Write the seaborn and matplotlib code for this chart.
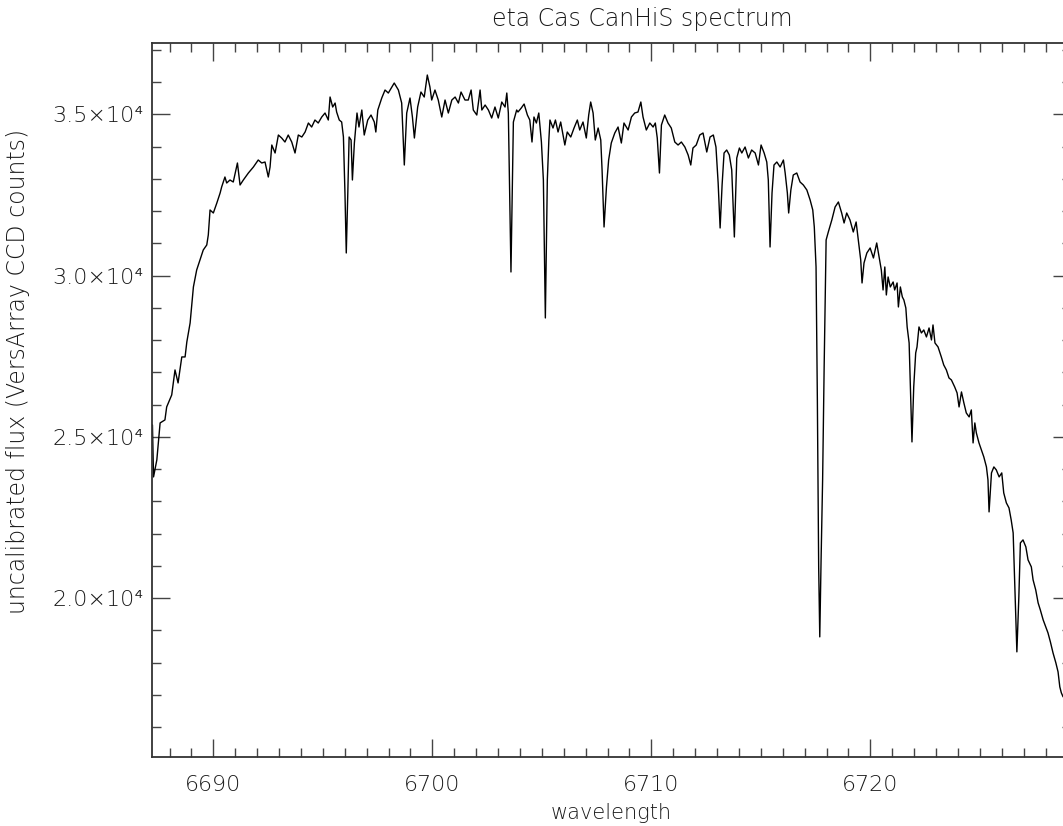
import matplotlib
matplotlib.use("Agg")
import matplotlib.pyplot as plt
from matplotlib.ticker import MultipleLocator, FuncFormatter
import numpy as np
import pandas as pd
import seaborn as sns

# spectrum, in pieces (wavelength in A, flux in counts)
wl_a = [6687.22, 6687.27, 6687.42, 6687.57, 6687.79, 6687.87, 6688.10, 6688.25, 6688.39, 6688.56,
        6688.71, 6688.79, 6688.94, 6689.09, 6689.24, 6689.39, 6689.54, 6689.70, 6689.77, 6689.85,
        6690.00, 6690.16, 6690.31, 6690.38, 6690.53, 6690.61, 6690.76, 6690.91, 6691.10, 6691.22,
        6691.37, 6691.60, 6691.83, 6692.05, 6692.21, 6692.36, 6692.51, 6692.59, 6692.67, 6692.82,
        6692.97, 6693.12, 6693.27, 6693.42, 6693.58, 6693.73, 6693.88, 6694.04, 6694.19, 6694.34,
        6694.49, 6694.64, 6694.79, 6694.95, 6695.10, 6695.25, 6695.33, 6695.45, 6695.56, 6695.63,
        6695.75]
flux_a = [25368, 23756, 24283, 25430, 25523, 25926, 26298, 27073, 26670, 27476,
          27476, 27941, 28530, 29646, 30173, 30483, 30793, 30948, 31258, 32033,
          31940, 32250, 32560, 32746, 33056, 32870, 32963, 32901, 33490, 32808,
          32963, 33180, 33366, 33583, 33490, 33521, 33056, 33366, 34048, 33800,
          34358, 34265, 34141, 34358, 34141, 33800, 34358, 34296, 34451, 34730,
          34606, 34823, 34730, 34916, 35040, 34823, 35536, 35226, 35350, 35071,
          34823]

wl_b = [6695.86, 6695.94, 6696.01, 6696.07, 6696.14, 6696.20, 6696.29, 6696.35, 6696.44, 6696.56,
        6696.65, 6696.78, 6696.89, 6697.05, 6697.20, 6697.35, 6697.42, 6697.51, 6697.69, 6697.84,
        6697.99, 6698.15, 6698.26, 6698.45, 6698.60, 6698.72, 6698.83, 6698.98, 6699.09, 6699.18,
        6699.33, 6699.48, 6699.63, 6699.77, 6699.89, 6699.97, 6700.12, 6700.27, 6700.43, 6700.58,
        6700.73, 6700.89, 6701.04, 6701.19, 6701.31, 6701.49, 6701.64, 6701.77, 6701.87, 6702.03,
        6702.18, 6702.26, 6702.41, 6702.56, 6702.71, 6702.86, 6703.01, 6703.17, 6703.32, 6703.40,
        6703.47, 6703.59, 6703.70, 6703.85]
flux_b = [34761, 34296, 32560, 30700, 32560, 34296, 34203, 32963, 34110, 35040,
          34606, 35133, 34358, 34823, 34978, 34761, 34451, 35133, 35505, 35753,
          35660, 35846, 35970, 35753, 35350, 33428, 35040, 35505, 34916, 34265,
          35226, 35691, 35536, 36218, 35846, 35443, 35753, 35443, 34916, 35443,
          35040, 35443, 35536, 35350, 35691, 35443, 35443, 35753, 35133, 34978,
          35753, 35133, 35288, 35133, 34885, 35226, 34885, 35381, 35226, 35660,
          35040, 30111, 34761, 35133]

wl_c = [6703.91, 6704.06, 6704.19, 6704.34, 6704.45, 6704.55, 6704.64, 6704.75, 6704.86, 6704.98,
        6705.07, 6705.16, 6705.25, 6705.32, 6705.37, 6705.51, 6705.62, 6705.74, 6705.86, 6705.97,
        6706.05, 6706.16, 6706.32, 6706.47, 6706.62, 6706.73, 6706.88, 6707.03, 6707.14, 6707.23,
        6707.34, 6707.44, 6707.57, 6707.69, 6707.75, 6707.84, 6707.95, 6708.05, 6708.17, 6708.33,
        6708.48, 6708.63, 6708.75, 6708.94, 6709.09, 6709.24, 6709.39, 6709.52, 6709.62, 6709.77,
        6709.93, 6710.08, 6710.18, 6710.27, 6710.37, 6710.46, 6710.61, 6710.76, 6710.91, 6711.07,
        6711.22, 6711.37, 6711.53, 6711.68, 6711.80, 6711.90, 6712.05, 6712.21, 6712.36]
flux_c = [35071, 35195, 35319, 34978, 34823, 34141, 34916, 34730, 35040, 34141,
          32963, 28685, 32963, 34203, 34823, 34575, 34823, 34451, 34761, 34358,
          34048, 34451, 34296, 34575, 34823, 34513, 34761, 34265, 34978, 35381,
          35040, 34203, 34575, 34203, 33273, 31506, 32746, 33583, 34110, 34420,
          34606, 34110, 34730, 34513, 34916, 35040, 35071, 35381, 34916, 34513,
          34730, 34606, 34730, 34265, 33180, 34668, 34978, 34730, 34575, 34141,
          34048, 34141, 33986, 33738, 33428, 33955, 34048, 34358, 34420]

wl_d = [6712.53, 6712.68, 6712.83, 6712.95, 6713.05, 6713.14, 6713.23, 6713.32, 6713.44, 6713.56,
        6713.67, 6713.79, 6713.90, 6714.02, 6714.13, 6714.28, 6714.43, 6714.58, 6714.74, 6714.89,
        6715.01, 6715.15, 6715.27, 6715.34, 6715.42, 6715.51, 6715.60, 6715.73, 6715.88, 6716.03,
        6716.11, 6716.21, 6716.27, 6716.37, 6716.48, 6716.64, 6716.79, 6716.94, 6717.10, 6717.25,
        6717.37, 6717.44, 6717.52, 6717.58, 6717.64, 6717.69, 6717.75, 6717.82, 6717.89, 6717.98,
        6718.08, 6718.24, 6718.39, 6718.54, 6718.69, 6718.80, 6718.92, 6719.07, 6719.22, 6719.35,
        6719.45, 6719.56, 6719.62, 6719.71, 6719.84, 6719.99, 6720.14, 6720.29, 6720.44]
flux_d = [33831, 34296, 34358, 33986, 32870, 31475, 32808, 33800, 33893, 33738,
          33273, 31196, 33645, 33955, 33800, 33986, 33645, 33893, 33800, 33428,
          34048, 33800, 33521, 32963, 30886, 32560, 33428, 33521, 33366, 33583,
          33180, 32560, 31940, 32653, 33118, 33180, 32901, 32808, 32653, 32343,
          32033, 31506, 30266, 26143, 20966, 18796, 21183, 23663, 27166, 31103,
          31351, 31723, 32126, 32281, 31940, 31630, 31940, 31723, 31351, 31661,
          31103, 30483, 29770, 30390, 30700, 30855, 30545, 31010, 30421]

wl_e = [6720.50, 6720.58, 6720.66, 6720.73, 6720.81, 6720.91, 6721.04, 6721.11, 6721.22, 6721.28,
        6721.37, 6721.46, 6721.53, 6721.62, 6721.68, 6721.77, 6721.83, 6721.90, 6721.98, 6722.07,
        6722.13, 6722.22, 6722.33, 6722.44, 6722.56, 6722.68, 6722.79, 6722.86, 6722.95, 6723.09,
        6723.24, 6723.35, 6723.47, 6723.59, 6723.70, 6723.85, 6723.96, 6724.05, 6724.16, 6724.27,
        6724.38, 6724.51, 6724.61, 6724.69, 6724.77, 6724.84, 6724.96, 6725.07, 6725.18, 6725.30,
        6725.37, 6725.42, 6725.53, 6725.64, 6725.75, 6725.88, 6726.00, 6726.09, 6726.21, 6726.33,
        6726.43, 6726.52, 6726.61, 6726.69, 6726.78, 6726.85, 6726.97, 6727.10, 6727.20, 6727.35,
        6727.43, 6727.55, 6727.66, 6727.76, 6727.89, 6728.01, 6728.11, 6728.22, 6728.34, 6728.47,
        6728.57, 6728.65, 6728.72, 6728.80]
flux_e = [30173, 29553, 30266, 29398, 29956, 29646, 29801, 29553, 29770, 29026,
          29646, 29336, 29243, 28995, 28406, 27910, 26546, 24841, 26546, 27600,
          27786, 28406, 28220, 28313, 28096, 28375, 28003, 28468, 27910, 27786,
          27476, 27228, 27073, 26825, 26763, 26546, 26360, 25926, 26391, 26050,
          25740, 25616, 25833, 24810, 25430, 25120, 24810, 24593, 24376, 24066,
          23663, 22671, 23880, 24066, 23973, 23756, 23880, 23260, 22950, 22795,
          22423, 22020, 20036, 18331, 20036, 21710, 21803, 21586, 21183, 20966,
          20563, 20253, 19850, 19633, 19323, 19106, 18920, 18641, 18300, 17990,
          17711, 17246, 17060, 16936]

x_range = (6687.20, 6729.16)
y_range = (15070, 37210)
y_ticks = [20000, 25000, 30000, 35000]

wl = wl_a + wl_b + wl_c + wl_d + wl_e
flux = flux_a + flux_b + flux_c + flux_d + flux_e
df = pd.DataFrame({"wavelength": wl, "flux": flux})

sns.set_theme(style="ticks")
plt.rcParams["font.family"] = ["DejaVu Sans"]
plt.rcParams["font.weight"] = "light"
txt = "#1a1a1a"

fig = plt.figure(figsize=(10.63, 8.26), dpi=100)
ax = fig.add_axes([0.1430, 0.0835, 0.8645, 0.8644])

sns.lineplot(data=df, x="wavelength", y="flux", sort=False, estimator=None,
             color="black", linewidth=1.0, ax=ax)

ax.set_xlim(*x_range)
ax.set_ylim(*y_range)
ax.xaxis.set_major_locator(MultipleLocator(10))
ax.xaxis.set_minor_locator(MultipleLocator(1))
ax.set_yticks(y_ticks)
ax.yaxis.set_minor_locator(MultipleLocator(1000))
ax.yaxis.set_major_formatter(FuncFormatter(lambda v, p: f"{v/1e4:.1f}\u00d710\u2074"))

ax.tick_params(which="both", direction="in", top=True, right=True,
               color="#444444", width=1.0, labelsize=16, labelcolor=txt)
ax.tick_params(which="major", length=13)
ax.tick_params(which="minor", length=6.5)
ax.tick_params(axis="x", which="major", pad=13)
ax.tick_params(axis="y", which="major", pad=6)
for s in ax.spines.values():
    s.set_color("#333333")
    s.set_linewidth(1.3)

ax.set_title("eta Cas CanHiS spectrum", fontsize=17, color=txt, pad=12, fontweight="light")
ax.title.set_x(0.533)
ax.set_xlabel("wavelength", fontsize=15, color=txt, fontweight="light")
ax.set_ylabel("uncalibrated flux (VersArray CCD counts)", fontsize=17, color=txt, fontweight="light")
ax.xaxis.set_label_coords(0.5, -0.064)
ax.yaxis.set_label_coords(-0.133, 0.54)

fig.savefig("out.png", dpi=100, facecolor="white")
